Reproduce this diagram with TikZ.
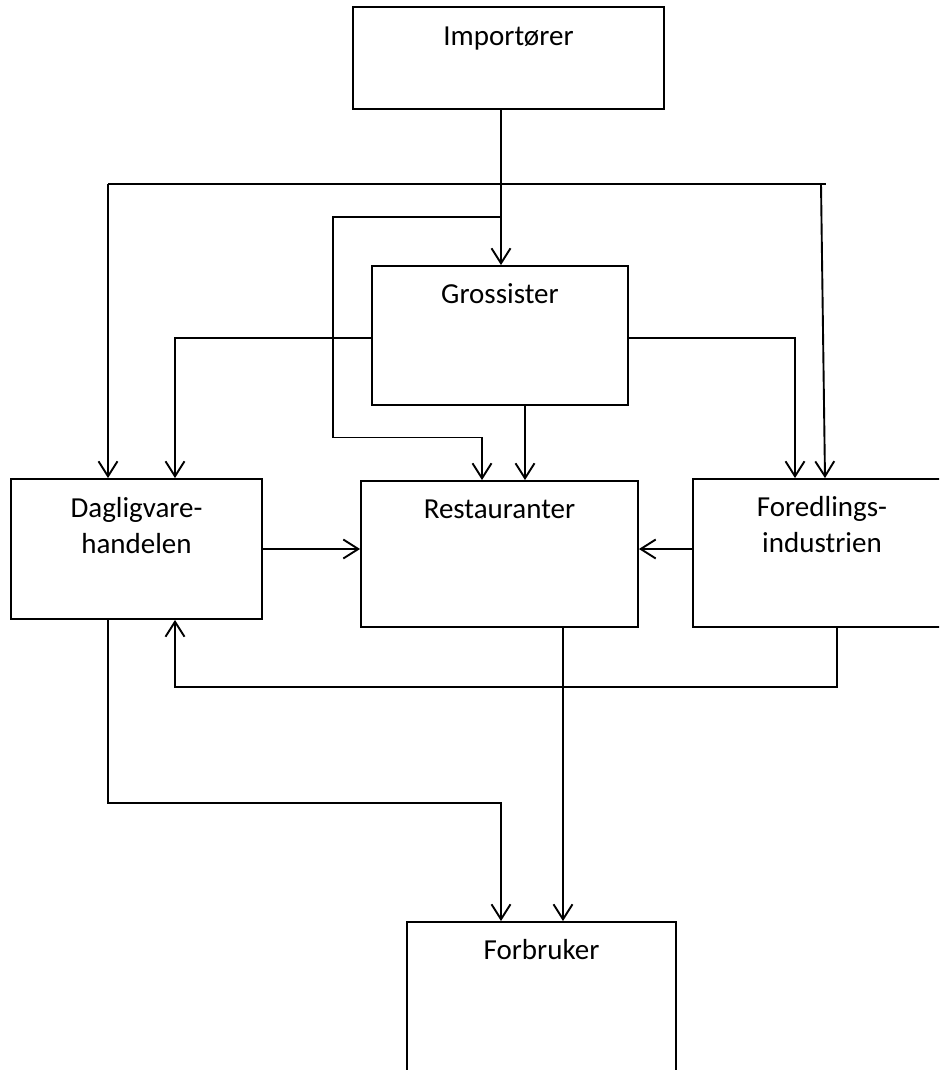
\documentclass[tikz,border=0pt]{standalone}
\usepackage{fontspec}
\setmainfont{Carlito}
\usetikzlibrary{arrows.meta}
\begin{document}
\begin{tikzpicture}[x=1pt,y=-1pt,
  box/.style={draw=black,line width=1.9pt,rectangle,inner sep=0pt},
  lbl/.style={inner sep=0pt,align=center,font=\fontsize{29}{35.4}\selectfont},
  conn/.style={line width=1.9pt},
  arr/.style={conn,-{Straight Barb[length=15pt,width=19pt,line width=1.9pt]}}]
\useasboundingbox (0,0) rectangle (939,1070);
\clip (0,0) rectangle (939,1070);
\fill[white] (0,0) rectangle (939,1070);
% boxes
\node[box,minimum width=311pt,minimum height=102pt] (imp) at (508.5,58) {};
\node[box,minimum width=256pt,minimum height=139pt] (gro) at (500,335.5) {};
\node[box,minimum width=251pt,minimum height=140pt] (dag) at (136.5,549) {};
\node[box,minimum width=277pt,minimum height=146pt] (res) at (499.5,554) {};
\node[box,minimum width=287pt,minimum height=148pt] (fore) at (836.5,553) {};
\node[box,minimum width=269pt,minimum height=178pt] (forb) at (541.5,1011) {};
% labels
\node[lbl,anchor=base] (impt) at (508.5,46) {Importører};
\node[lbl,anchor=base] (grot) at (500,303) {Grossister};
\node[lbl,anchor=base] (dagt) at (136.5,553) {Dagligvare-\\handelen};
\node[lbl,anchor=base] (rest) at (499.5,518) {Restauranter};
\node[lbl,anchor=base] (foret) at (822,552) {Foredlings-\\industrien};
\node[lbl,anchor=base] (forbt) at (541.5,959) {Forbruker};
% helper coordinates
\coordinate (xa) at (501,0);
\coordinate (tl) at (108,184);
\coordinate (tr) at (826,184);
\coordinate (tr2) at (821,184);
\coordinate (xr2) at (825,0);
\coordinate (il1) at (501,217);
\coordinate (il2) at (333,217);
\coordinate (il3) at (333,437.5);
\coordinate (il4) at (482,437.5);
\coordinate (gl) at (175,338);
\coordinate (gr) at (795,338);
\coordinate (xg) at (525,0);
\coordinate (ya) at (0,549);
\coordinate (fb1) at (837,687);
\coordinate (fb2) at (175,687);
\coordinate (db1) at (108,803);
\coordinate (db2) at (501,803);
\coordinate (xrs) at (563,0);
% connectors
\draw[arr] (imp.south -| xa) -- (gro.north -| xa);
\draw[conn] (tl) -- (tr);
\draw[arr] (tl) -- (dag.north -| tl);
\draw[arr] (tr2) -- (fore.north -| xr2);
\draw[arr] (il1) -- (il2) -- (il3) -- (il4) -- (res.north -| il4);
\draw[arr] (gro.west |- gl) -- (gl) -- (dag.north -| gl);
\draw[arr] (gro.east |- gr) -- (gr) -- (fore.north -| gr);
\draw[arr] (gro.south -| xg) -- (res.north -| xg);
\draw[arr] (dag.east |- ya) -- (res.west |- ya);
\draw[arr] (fore.west |- ya) -- (res.east |- ya);
\draw[arr] (fore.south -| fb1) -- (fb1) -- (fb2) -- (dag.south -| fb2);
\draw[arr] (dag.south -| db1) -- (db1) -- (db2) -- (forb.north -| db2);
\draw[arr] (res.south -| xrs) -- (forb.north -| xrs);
\end{tikzpicture}
\end{document}
